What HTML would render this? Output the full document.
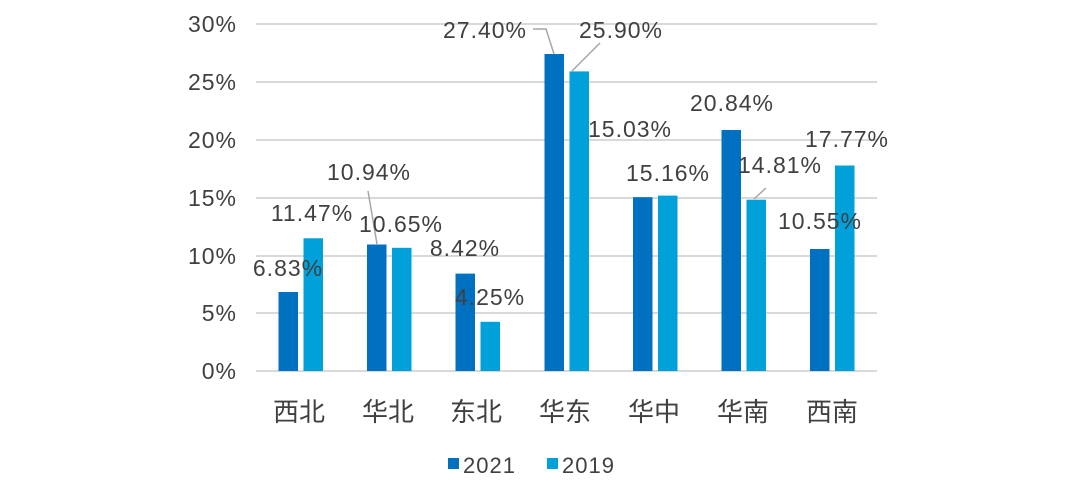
<!DOCTYPE html>
<html><head><meta charset="utf-8"><style>body{margin:0;background:#fff}svg{display:block}text{font-family:"Liberation Sans","Noto Sans CJK SC",sans-serif;fill:#404040}</style></head><body>
<svg width="1066" height="492" viewBox="0 0 1066 492">
<g stroke="#d9d9d9" stroke-width="2">
<line x1="256" x2="877" y1="24" y2="24"/><line x1="256" x2="877" y1="82" y2="82"/><line x1="256" x2="877" y1="140" y2="140"/><line x1="256" x2="877" y1="198" y2="198"/><line x1="256" x2="877" y1="256" y2="256"/><line x1="256" x2="877" y1="313" y2="313"/><line x1="256" x2="877" y1="371" y2="371"/>
</g>
<g font-size="23" text-anchor="end" letter-spacing="1">
<text x="237" y="32">30%</text><text x="237" y="90">25%</text><text x="237" y="148">20%</text><text x="237" y="206">15%</text><text x="237" y="264">10%</text><text x="237" y="321">5%</text><text x="237" y="379">0%</text>
</g>
<g fill="#0070C0">
<rect x="278.5" y="292" width="19.5" height="79"/>
<rect x="367" y="244.5" width="19.5" height="126.5"/>
<rect x="455.5" y="273.6" width="19.5" height="97.4"/>
<rect x="544.5" y="54" width="19.5" height="317"/>
<rect x="633" y="197.2" width="19.5" height="173.8"/>
<rect x="721.5" y="130" width="19.5" height="241"/>
<rect x="810" y="249" width="19.5" height="122"/>
</g>
<g fill="#00A0DA">
<rect x="303.5" y="238.3" width="19.5" height="132.7"/>
<rect x="392" y="247.8" width="19.5" height="123.2"/>
<rect x="480.5" y="321.8" width="19.5" height="49.2"/>
<rect x="569.5" y="71.4" width="19.5" height="299.6"/>
<rect x="658" y="195.6" width="19.5" height="175.4"/>
<rect x="746.5" y="199.7" width="19.5" height="171.3"/>
<rect x="835" y="165.5" width="19.5" height="205.5"/>
</g>
<g stroke="#a6a6a6" stroke-width="1.5" fill="none">
<polyline points="533,29 546,29 554,54"/>
<polyline points="600,43 572,71"/>
<polyline points="368,191 377,244"/>
<polyline points="766,188 754,199"/>
</g>
<g font-size="23" text-anchor="middle" letter-spacing="1">
<text x="288" y="276">6.83%</text>
<text x="312" y="221">11.47%</text>
<text x="369" y="180">10.94%</text>
<text x="401" y="232">10.65%</text>
<text x="465" y="256">8.42%</text>
<text x="490" y="305">4.25%</text>
<text x="485" y="38">27.40%</text>
<text x="621" y="38">25.90%</text>
<text x="630" y="137">15.03%</text>
<text x="668" y="181">15.16%</text>
<text x="732" y="111">20.84%</text>
<text x="780" y="173">14.81%</text>
<text x="820" y="229">10.55%</text>
<text x="847" y="147">17.77%</text>
</g>
<g font-size="26" text-anchor="middle">
<text x="299" y="421">西北</text><text x="388" y="421">华北</text><text x="476" y="421">东北</text><text x="565" y="421">华东</text><text x="654" y="421">华中</text><text x="743" y="421">华南</text><text x="832" y="421">西南</text>
</g>
<rect x="448" y="458" width="11" height="11" fill="#0070C0"/>
<text x="463" y="473" font-size="22" letter-spacing="1">2021</text>
<rect x="547" y="458" width="11" height="11" fill="#00A0DA"/>
<text x="562" y="473" font-size="22" letter-spacing="1">2019</text>
</svg>
</body></html>
